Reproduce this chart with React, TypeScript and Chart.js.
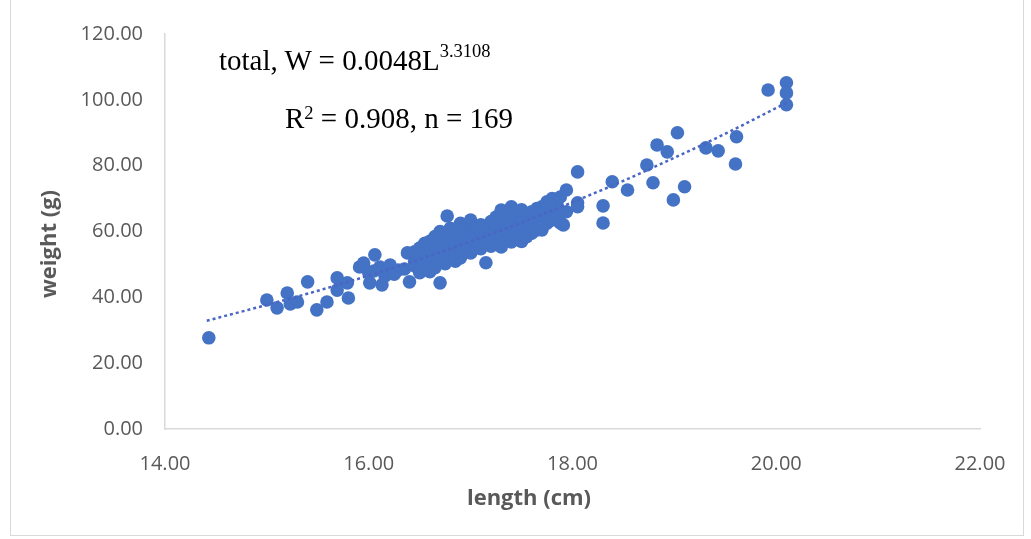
import React, { useEffect, useRef } from "react";
import { Chart, registerables } from "chart.js";

Chart.register(...registerables);

// Observed fish: length (cm) and weight (g)
const lengthCm = [
  14.43, 15.0, 15.1, 15.2, 15.23, 15.3, 15.4, 15.49, 15.59, 15.69, 15.69, 15.79, 15.8, 15.91, 15.95,
  16.01, 16.06, 16.11, 16.13, 16.21, 16.29, 16.0, 16.05, 16.16, 16.38, 16.4, 16.7, 16.77, 16.25, 16.35,
  16.45, 16.45, 16.45,
  16.5, 16.5, 16.5, 16.5,
  16.55, 16.55, 16.55, 16.55,
  16.6, 16.6, 16.6, 16.6, 16.6,
  16.65, 16.65, 16.65, 16.65,
  16.7, 16.7, 16.7, 16.7, 16.7,
  16.75, 16.75, 16.75, 16.75,
  16.8, 16.8, 16.8, 16.8, 16.8,
  16.85, 16.85, 16.85, 16.85,
  16.9, 16.9, 16.9, 16.9, 16.9,
  16.95, 16.95, 16.95, 16.95,
  17.0, 17.0, 17.0, 17.0, 17.0,
  17.05, 17.05, 17.05, 17.05,
  17.1, 17.1, 17.1, 17.1, 17.1,
  17.15, 17.15, 17.15, 17.15,
  17.2, 17.2, 17.2, 17.2,
  17.25, 17.25, 17.25, 17.25,
  17.3, 17.3, 17.3, 17.3, 17.3,
  17.35, 17.35,
  17.4, 17.4, 17.4, 17.4, 17.4,
  17.45, 17.45, 17.45,
  17.5, 17.5, 17.5, 17.5,
  17.55, 17.55, 17.55,
  17.6, 17.6, 17.6,
  17.65, 17.65, 17.65,
  17.7, 17.7, 17.7,
  17.75, 17.75, 17.75,
  17.8, 17.8, 17.8,
  17.85, 17.85,
  17.88, 17.88,
  17.94, 17.94,
  17.91,
  18.05, 18.05, 18.05,
  18.3, 18.3,
  18.39, 18.54, 18.73, 18.79, 18.83, 18.93, 18.99, 19.03, 19.1, 19.31, 19.43, 19.6, 19.61, 19.92,
  20.1, 20.1, 20.1,
];

const weightG = [
  27.7, 39.2, 36.8, 41.3, 38.0, 38.6, 44.7, 36.2, 38.6, 45.9, 42.2, 44.4, 39.8, 49.2, 50.4,
  44.4, 52.9, 49.2, 43.8, 49.8, 48.3, 47.5, 48.0, 46.5, 53.5, 44.7, 44.4, 64.7, 47.0, 48.6,
  51.0, 53.8, 49.5,
  47.5, 52.2, 55.0, 50.0,
  48.8, 53.0, 56.4, 51.2,
  50.5, 54.6, 57.0, 47.8, 52.8,
  49.0, 53.5, 55.8, 58.5,
  51.5, 55.0, 57.8, 53.2, 60.0,
  50.2, 54.0, 56.5, 59.0,
  52.5, 55.5, 58.2, 61.0, 54.0,
  53.0, 56.8, 59.5, 51.0,
  54.5, 57.5, 60.5, 62.5, 52.0,
  55.8, 58.8, 61.5, 54.4,
  53.5, 57.0, 59.8, 62.8, 63.5,
  56.0, 58.5, 61.0, 55.0,
  54.8, 58.0, 60.2, 62.0, 57.2,
  50.5, 56.5, 59.0, 61.6,
  55.5, 58.8, 60.8, 63.0,
  57.5, 60.0, 62.5, 64.4,
  55.3, 58.6, 61.5, 63.8, 66.5,
  57.8, 60.5,
  56.8, 59.6, 62.2, 65.0, 67.5,
  58.5, 61.0, 64.0,
  57.0, 60.2, 63.0, 66.6,
  58.4, 62.0, 64.8,
  59.5, 63.5, 66.0,
  60.5, 64.2, 67.0,
  60.5, 65.0, 67.5,
  62.5, 66.5, 69.0,
  63.5, 67.0, 70.0,
  64.5, 68.0,
  62.6, 70.5,
  72.6, 66.0,
  62.0,
  68.7, 67.5, 78.1,
  67.8, 62.6,
  75.1, 72.6, 80.2, 74.8, 86.3, 84.2, 69.6, 90.0, 73.6, 85.4, 84.5, 80.5, 88.8, 103.0,
  105.2, 102.1, 98.5,
];

// Power trendline as drawn in the picture (W = 0.0048 L^3.3108)
const trendLength = [14.41, 15.0, 15.5, 16.0, 16.5, 17.0, 17.5, 18.0, 18.5, 19.0, 19.5, 20.1];
const trendWeight = [32.9, 37.7, 42.0, 46.6, 51.6, 57.0, 62.7, 68.9, 75.4, 82.4, 89.7, 99.1];

const xTickValues = [14, 16, 18, 20, 22];
const yTickValues = [0, 20, 40, 60, 80, 100, 120];

const xTitle = "length (cm)";
const yTitle = "weight (g)";

const BLUE = "#4472C4";
const GREY = "#595959";

export default function App() {
  const canvasRef = useRef<HTMLCanvasElement | null>(null);

  useEffect(() => {
    const canvas = canvasRef.current;
    if (!canvas) return;
    const points = lengthCm.map((x, i) => ({ x, y: weightG[i] }));
    const trend = trendLength.map((x, i) => ({ x, y: trendWeight[i] }));
    const tickFont = { family: "'Open Sans', sans-serif", size: 20 };

    const chart = new Chart(canvas, {
      type: "scatter",
      data: {
        datasets: [
          {
            label: "trend",
            data: trend,
            showLine: true,
            borderColor: "#4a66c4",
            borderWidth: 2.5,
            borderDash: [3, 3],
            pointRadius: 0,
            cubicInterpolationMode: "monotone",
            fill: false,
          } as any,
          {
            label: "total",
            data: points,
            backgroundColor: BLUE,
            borderColor: BLUE,
            borderWidth: 0,
            pointRadius: 6.8,
            pointHoverRadius: 6.8,
          },
        ],
      },
      options: {
        responsive: false,
        animation: false,
        devicePixelRatio: 1,
        layout: { padding: { left: 0, top: 34, right: 51, bottom: 0 } },
        plugins: {
          legend: { display: false },
          tooltip: { enabled: false },
        },
        scales: {
          x: {
            type: "linear",
            min: 14,
            max: 22,
            afterFit: (s: any) => {
              s.height = 110;
            },
            afterBuildTicks: (s: any) => {
              s.ticks = xTickValues.map((v) => ({ value: v }));
            },
            grid: { display: false },
            border: { display: true, color: "#d9d9d9", width: 1.5 },
            ticks: {
              color: GREY,
              font: tickFont,
              padding: 15,
              callback: (v: any) => Number(v).toFixed(2),
            },
          },
          y: {
            type: "linear",
            min: 0,
            max: 120,
            afterFit: (s: any) => {
              s.width = 165;
            },
            afterBuildTicks: (s: any) => {
              s.ticks = yTickValues.map((v) => ({ value: v }));
            },
            grid: { display: false },
            border: { display: true, color: "#d9d9d9", width: 1.5 },
            ticks: {
              color: GREY,
              font: tickFont,
              padding: 14,
              callback: (v: any) => Number(v).toFixed(2),
            },
          },
        },
      },
    });
    return () => chart.destroy();
  }, []);

  const serif = "'Liberation Serif', 'Times New Roman', serif";

  return (
    <div
      style={{
        position: "fixed",
        left: 0,
        top: 0,
        width: 1031,
        height: 539,
        background: "#ffffff",
        overflow: "hidden",
      }}
    >
      <div
        style={{
          position: "absolute",
          left: 10,
          top: -2,
          width: 1014,
          height: 538,
          border: "1px solid #d9d9d9",
          boxSizing: "border-box",
        }}
      />
      <canvas
        ref={canvasRef}
        width={1031}
        height={539}
        style={{ position: "absolute", left: 0, top: 0, width: 1031, height: 539 }}
      />
      <div
        style={{
          position: "absolute",
          left: 219,
          top: 46,
          fontFamily: serif,
          fontSize: 29,
          lineHeight: "29px",
          color: "#000",
          whiteSpace: "nowrap",
        }}
      >
        total, W = 0.0048L
        <span style={{ fontSize: 18.5, position: "relative", top: -13 }}>3.3108</span>
      </div>
      <div
        style={{
          position: "absolute",
          left: 285,
          top: 104,
          fontFamily: serif,
          fontSize: 29,
          lineHeight: "29px",
          color: "#000",
          whiteSpace: "nowrap",
        }}
      >
        R<span style={{ fontSize: 18.5, position: "relative", top: -9 }}>2</span> = 0.908, n = 169
      </div>
      <div
        style={{
          position: "absolute",
          left: 0,
          top: 481,
          width: 1031,
          paddingLeft: 27,
          boxSizing: "border-box",
          textAlign: "center",
          fontFamily: "'Open Sans', sans-serif",
          fontWeight: 700,
          fontSize: 22,
          lineHeight: "30px",
          color: GREY,
        }}
      >
        {xTitle}
      </div>
      <div
        style={{
          position: "absolute",
          left: 47,
          top: 244,
          transform: "translate(-50%, -50%) rotate(-90deg)",
          fontFamily: "'Open Sans', sans-serif",
          fontWeight: 700,
          fontSize: 22,
          lineHeight: "30px",
          color: GREY,
          whiteSpace: "nowrap",
        }}
      >
        {yTitle}
      </div>
    </div>
  );
}
